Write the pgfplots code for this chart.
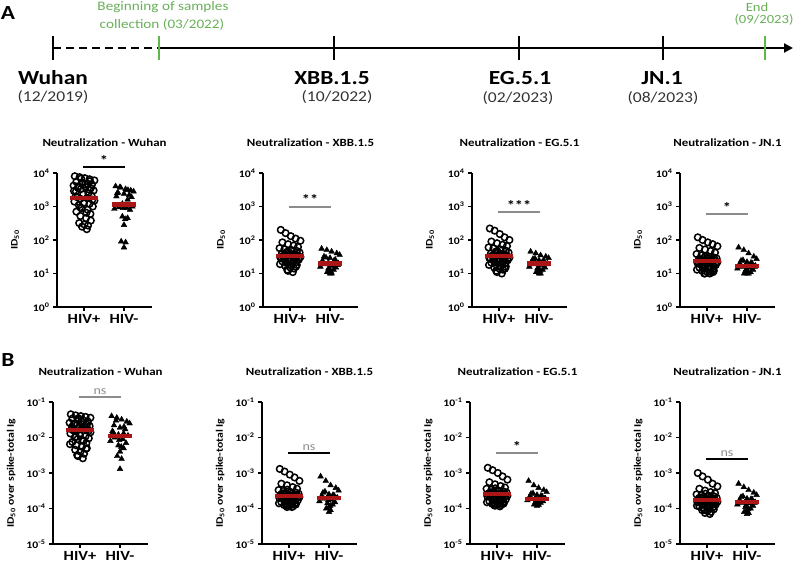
\documentclass[border=0pt]{standalone}
\usepackage{fontspec}
\setmainfont{Carlito}[FakeStretch=1.17]
\usepackage{pgfplots}
\pgfplotsset{compat=1.18}
\usepackage{pgfplotstable}
\usetikzlibrary{arrows.meta}

\definecolor{medred}{RGB}{170,22,22}
\definecolor{tlgreen}{RGB}{92,184,72}
\definecolor{txtgreen}{RGB}{104,176,88}
\definecolor{sigGray}{RGB}{140,140,140}

% HIV+ donors: jitter position and values for each variant
% (wA..jA: ID50; wB..jB: ID50 over spike-total Ig)
\pgfplotstableread{
jit  wA   xA  eA  jA  wB     xB      eB      jB
0.77 8000 200 220 120 0.045  1.3e-3  1.4e-3  1.0e-3
0.89 7500 160 190 100 0.042  1.1e-3  1.2e-3  8e-4
1.02 7000 130 150 85  0.040  9e-4    1.0e-3  6.5e-4
1.14 6500 110 120 75  0.038  7.5e-4  8e-4    5e-4
1.26 6000 95  100 65  0.036  6e-4    6.5e-4  4.2e-4
0.81 5500 85  90  58  0.034  5e-4    5.5e-4  3.6e-4
0.95 5200 75  80  52  0.032  4.5e-4  4.8e-4  3.2e-4
1.09 4800 68  72  47  0.030  4e-4    4.3e-4  2.9e-4
1.20 4500 62  66  42  0.028  3.6e-4  3.9e-4  2.7e-4
0.74 4200 57  60  38  0.026  3.3e-4  3.6e-4  2.5e-4
0.86 4000 53  56  35  0.025  3.1e-4  3.4e-4  2.4e-4
1.04 3800 50  52  32  0.024  2.9e-4  3.2e-4  2.3e-4
1.17 3500 47  48  30  0.023  2.8e-4  3.0e-4  2.2e-4
0.92 3300 44  45  29  0.022  2.7e-4  2.9e-4  2.1e-4
1.24 3000 42  42  28  0.021  2.6e-4  2.8e-4  2.0e-4
0.80 2800 40  40  27  0.020  2.5e-4  2.7e-4  1.95e-4
1.11 2500 38  38  26  0.019  2.45e-4 2.65e-4 1.9e-4
0.98 2300 36  36  25  0.018  2.4e-4  2.6e-4  1.8e-4
1.19 2100 35  35  25  0.017  2.35e-4 2.55e-4 1.75e-4
0.83 1900 34  34  24  0.016  2.3e-4  2.5e-4  1.7e-4
1.08 1800 33  33  24  0.016  2.25e-4 2.45e-4 1.65e-4
0.91 1700 32  32  23  0.015  2.2e-4  2.4e-4  1.6e-4
1.26 1500 31  30  22  0.014  2.1e-4  2.3e-4  1.55e-4
0.76 1400 30  29  21  0.013  2.0e-4  2.2e-4  1.5e-4
1.00 1300 29  28  20  0.012  1.9e-4  2.1e-4  1.45e-4
1.14 1200 28  27  19  0.011  1.8e-4  2.0e-4  1.4e-4
0.87 1100 27  26  18  0.010  1.75e-4 1.9e-4  1.35e-4
1.22 1000 26  25  18  0.0095 1.7e-4  1.8e-4  1.3e-4
0.94 900  25  24  17  0.009  1.6e-4  1.75e-4 1.25e-4
1.09 800  24  22  16  0.008  1.55e-4 1.7e-4  1.2e-4
0.81 700  23  21  15  0.0075 1.5e-4  1.6e-4  1.15e-4
1.16 600  22  20  14  0.007  1.45e-4 1.55e-4 1.1e-4
0.91 520  21  19  14  0.006  1.4e-4  1.5e-4  1.05e-4
1.05 450  20  17  13  0.0055 1.35e-4 1.45e-4 1.0e-4
1.17 380  18  16  12  0.005  1.3e-4  1.4e-4  9.5e-5
0.88 320  17  15  12  0.0045 1.25e-4 1.35e-4 9e-5
1.01 290  15  14  11  0.004  1.2e-4  1.3e-4  8.5e-5
1.10 270  14  13  11  0.0035 1.15e-4 1.25e-4 8e-5
0.95 250  12  11  10  0.003  1.1e-4  1.2e-4  7.5e-5
1.07 210  11  10  10  0.0026 1.1e-4  1.15e-4 7e-5
0.96 5000 45  46  33  0.035  3.4e-4  3.7e-4  2.6e-4
1.03 4600 38  39  28  0.029  2.8e-4  3.1e-4  2.2e-4
0.85 3600 33  34  26  0.024  2.6e-4  2.8e-4  2.0e-4
1.13 3200 31  31  24  0.019  2.4e-4  2.6e-4  1.8e-4
0.79 2000 29  28  22  0.017  2.2e-4  2.4e-4  1.7e-4
1.21 1600 27  26  20  0.015  2.0e-4  2.2e-4  1.6e-4
0.99 1250 25  24  19  0.013  1.85e-4 2.0e-4  1.5e-4
0.90 950  23  22  17  0.0105 1.7e-4  1.85e-4 1.4e-4
1.06 650  20  20  15  0.0085 1.5e-4  1.65e-4 1.3e-4
0.75 2900 19  18  13  0.0065 1.4e-4  1.5e-4  1.2e-4
1.15 5700 16  14  11  0.0048 1.3e-4  1.35e-4 1.1e-4
0.93 6800 13  12  10  0.0032 1.2e-4  1.25e-4 9e-5
}\hivpos

% HIV- donors
\pgfplotstableread{
jit  wA   xA eA jA wB     xB      eB      jB
1.79 4000 55 45 60 0.040  8e-4    6e-4    5e-4
1.92 3600 50 40 50 0.036  6e-4    4.5e-4  4e-4
2.04 3300 45 35 40 0.032  4.5e-4  3.8e-4  3.3e-4
2.17 3000 40 32 32 0.028  3.8e-4  3.3e-4  2.8e-4
2.24 2800 36 29 27 0.025  3.2e-4  2.9e-4  2.4e-4
1.85 2600 32 27 24 0.022  2.8e-4  2.6e-4  2.1e-4
2.00 2400 29 25 22 0.019  2.5e-4  2.4e-4  1.9e-4
2.13 2200 26 23 20 0.017  2.3e-4  2.2e-4  1.8e-4
1.81 2000 24 22 19 0.015  2.2e-4  2.1e-4  1.7e-4
2.09 1600 22 21 18 0.013  2.1e-4  2.0e-4  1.6e-4
1.96 1200 21 20 17 0.012  2.05e-4 1.95e-4 1.55e-4
2.21 1000 20 20 17 0.011  2.0e-4  1.9e-4  1.5e-4
1.87 950  19 19 16 0.010  1.9e-4  1.85e-4 1.45e-4
2.07 900  17 18 15 0.009  1.8e-4  1.8e-4  1.4e-4
1.76 850  16 16 14 0.008  1.6e-4  1.7e-4  1.3e-4
2.15 800  15 15 13 0.007  1.5e-4  1.6e-4  1.2e-4
1.96 500  14 14 12 0.006  1.4e-4  1.5e-4  1.1e-4
2.09 450  13 13 11 0.005  1.3e-4  1.45e-4 1.0e-4
2.00 280  12 12 11 0.004  1.1e-4  1.4e-4  9e-5
1.93 90   11 11 10 0.003  1.0e-4  1.3e-4  8e-5
2.04 85   10 10 10 0.0025 9e-5    1.25e-4 7.5e-5
2.00 60   10 10 10 0.0013 8e-5    1.2e-4  7e-5
1.90 3800 30 28 25 0.030  3.0e-4  2.7e-4  2.2e-4
2.10 3100 24 24 21 0.020  2.4e-4  2.3e-4  1.85e-4
1.83 2500 21 21 18 0.014  2.1e-4  2.05e-4 1.6e-4
2.19 1900 18 19 16 0.011  1.95e-4 1.9e-4  1.45e-4
1.98 900  14 15 13 0.0085 1.7e-4  1.75e-4 1.25e-4
2.03 420  11 12 11 0.0055 1.2e-4  1.35e-4 9.5e-5
}\hivneg

\pgfplotsset{
  every axis/.append style={
    scale only axis, width=95pt,
    yminorticks=false,
    xmin=0.325, xmax=2.7,
    axis lines=left, axis line style={-, line width=1.3pt},
    xtick={1,2}, xticklabels={HIV+,HIV-},
    tick align=outside, major tick length=4pt,
    tick style={line width=1.2pt, black},
    xticklabel style={font=\bfseries\fontsize{14}{14}\selectfont},
    yticklabel style={font=\bfseries\fontsize{10}{10}\selectfont},
    ylabel style={font=\bfseries\fontsize{10}{10}\selectfont,
      at={(axis description cs:-0.44,0.5)}, anchor=center},
    title style={font=\bfseries\fontsize{11}{11}\selectfont,
      anchor=center, yshift=24pt},
    clip=false,
    clip marker paths=true,
  },
}
\tikzset{
  sigbar/.style={line width=1.7pt},
  sigtxt/.style={font=\bfseries\fontsize{14}{14}\selectfont, inner sep=1pt},
  nstxt/.style={font=\fontsize{12}{12}\selectfont, inner sep=1.5pt},
  medbar/.style={draw=medred, line width=4.2pt},
}

\begin{document}
\begin{tikzpicture}
\useasboundingbox (0,0) rectangle (796pt,569pt);

% ---------- timeline ----------
\draw[line width=2.6pt, dash pattern=on 8pt off 5pt] (53pt,521pt) -- (159pt,521pt);
\draw[line width=2.6pt, -{Triangle[length=9pt,width=9pt]}] (159pt,521pt) -- (793pt,521pt);
\foreach \xx in {53,334,519,663}
  \draw[line width=2.6pt] (\xx pt,509pt) -- (\xx pt,533pt);
\foreach \xx in {159,765}
  \draw[line width=2.6pt, tlgreen] (\xx pt,509pt) -- (\xx pt,533pt);

\node[font=\bfseries\fontsize{20}{22}\selectfont] at (53pt,491pt) {Wuhan};
\node[font=\fontsize{15}{16}\selectfont, text=black!80] at (53pt,472pt) {(12/2019)};
\node[font=\bfseries\fontsize{20}{22}\selectfont] at (332pt,491pt) {XBB.1.5};
\node[font=\fontsize{15}{16}\selectfont, text=black!80] at (337pt,472pt) {(10/2022)};
\node[font=\bfseries\fontsize{20}{22}\selectfont] at (520pt,491pt) {EG.5.1};
\node[font=\fontsize{15}{16}\selectfont, text=black!80] at (518pt,471pt) {(02/2023)};
\node[font=\bfseries\fontsize{20}{22}\selectfont] at (662pt,491pt) {JN.1};
\node[font=\fontsize{15}{16}\selectfont, text=black!80] at (663pt,471pt) {(08/2023)};
\node[font=\fontsize{13}{14}\selectfont, text=txtgreen] at (163pt,562pt) {Beginning of samples};
\node[font=\fontsize{13}{14}\selectfont, text=txtgreen] at (162pt,544pt) {collection (03/2022)};
\node[font=\fontsize{12.5}{13}\selectfont, text=txtgreen] at (757pt,562pt) {End};
\node[font=\fontsize{12.5}{13}\selectfont, text=txtgreen] at (764pt,549pt) {(09/2023)};

\node[font=\bfseries\fontsize{20}{22}\selectfont] at (8pt,556pt) {A};
\node[font=\bfseries\fontsize{20}{22}\selectfont] at (8pt,209pt) {B};

% ---------- row A: ID50 ----------
\def\rowAticks{10\textsuperscript{0},10\textsuperscript{1},10\textsuperscript{2},10\textsuperscript{3},10\textsuperscript{4}}
\def\rowBticks{10\textsuperscript{-5},10\textsuperscript{-4},10\textsuperscript{-3},10\textsuperscript{-2},10\textsuperscript{-1}}

\begin{axis}[ymode=log, height=134pt, ymin=1, ymax=1e4, ytick={1,10,100,1000,10000},
  yticklabels/.expand once=\rowAticks, ylabel={ID\textsubscript{50}},
  at={(57pt,262pt)}, anchor=south west, title={Neutralization - Wuhan}]
\addplot[only marks, mark=o, mark size=3.3pt, line width=1.5pt] table[x=jit, y=wA] {\hivpos};
\addplot[only marks, mark=triangle*, mark size=3.3pt] table[x=jit, y=wA] {\hivneg};
\addplot[medbar, mark=none] coordinates {(0.65,1800) (1.35,1800)};
\addplot[medbar, mark=none] coordinates {(1.70,1150) (2.30,1150)};
\draw[sigbar] (axis cs:0.98,15000) -- (axis cs:2.02,15000) node[midway, above, sigtxt] {*};
\end{axis}

\begin{axis}[ymode=log, height=134pt, ymin=1, ymax=1e4, ytick={1,10,100,1000,10000},
  yticklabels/.expand once=\rowAticks, ylabel={ID\textsubscript{50}},
  at={(263pt,262pt)}, anchor=south west, title={Neutralization - XBB.1.5}]
\addplot[only marks, mark=o, mark size=3.3pt, line width=1.5pt] table[x=jit, y=xA] {\hivpos};
\addplot[only marks, mark=triangle*, mark size=3.3pt] table[x=jit, y=xA] {\hivneg};
\addplot[medbar, mark=none] coordinates {(0.65,33) (1.35,33)};
\addplot[medbar, mark=none] coordinates {(1.70,20) (2.30,20)};
\draw[sigbar, sigGray] (axis cs:0.98,980) -- (axis cs:2.02,980) node[midway, above, sigtxt, text=black] {**};
\end{axis}

\begin{axis}[ymode=log, height=134pt, ymin=1, ymax=1e4, ytick={1,10,100,1000,10000},
  yticklabels/.expand once=\rowAticks, ylabel={ID\textsubscript{50}},
  at={(472pt,262pt)}, anchor=south west, title={Neutralization - EG.5.1}]
\addplot[only marks, mark=o, mark size=3.3pt, line width=1.5pt] table[x=jit, y=eA] {\hivpos};
\addplot[only marks, mark=triangle*, mark size=3.3pt] table[x=jit, y=eA] {\hivneg};
\addplot[medbar, mark=none] coordinates {(0.65,33) (1.35,33)};
\addplot[medbar, mark=none] coordinates {(1.70,20) (2.30,20)};
\draw[sigbar, sigGray] (axis cs:0.98,690) -- (axis cs:2.02,690) node[midway, above, sigtxt, text=black] {***};
\end{axis}

\begin{axis}[ymode=log, height=134pt, ymin=1, ymax=1e4, ytick={1,10,100,1000,10000},
  yticklabels/.expand once=\rowAticks, ylabel={ID\textsubscript{50}},
  at={(680pt,262pt)}, anchor=south west, title={Neutralization - JN.1}]
\addplot[only marks, mark=o, mark size=3.3pt, line width=1.5pt] table[x=jit, y=jA] {\hivpos};
\addplot[only marks, mark=triangle*, mark size=3.3pt] table[x=jit, y=jA] {\hivneg};
\addplot[medbar, mark=none] coordinates {(0.65,24) (1.35,24)};
\addplot[medbar, mark=none] coordinates {(1.70,17) (2.30,17)};
\draw[sigbar, sigGray] (axis cs:0.98,600) -- (axis cs:2.02,600) node[midway, above, sigtxt, text=black] {*};
\end{axis}

% ---------- row B: ID50 over spike-total Ig ----------
\begin{axis}[ymode=log, height=142pt, ymin=1e-5, ymax=1e-1, ytick={1e-5,1e-4,1e-3,1e-2,1e-1},
  yticklabels/.expand once=\rowBticks, ylabel={ID\textsubscript{50} over spike-total Ig},
  at={(53pt,25pt)}, anchor=south west, title={Neutralization - Wuhan}]
\addplot[only marks, mark=o, mark size=3.3pt, line width=1.5pt] table[x=jit, y=wB] {\hivpos};
\addplot[only marks, mark=triangle*, mark size=3.3pt] table[x=jit, y=wB] {\hivneg};
\addplot[medbar, mark=none] coordinates {(0.65,0.016) (1.35,0.016)};
\addplot[medbar, mark=none] coordinates {(1.70,0.011) (2.30,0.011)};
\draw[sigbar, sigGray] (axis cs:0.98,0.138) -- (axis cs:2.02,0.138) node[midway, above, nstxt, text=sigGray] {ns};
\end{axis}

\begin{axis}[ymode=log, height=142pt, ymin=1e-5, ymax=1e-1, ytick={1e-5,1e-4,1e-3,1e-2,1e-1},
  yticklabels/.expand once=\rowBticks, ylabel={ID\textsubscript{50} over spike-total Ig},
  at={(262pt,25pt)}, anchor=south west, title={Neutralization - XBB.1.5}]
\addplot[only marks, mark=o, mark size=3.3pt, line width=1.5pt] table[x=jit, y=xB] {\hivpos};
\addplot[only marks, mark=triangle*, mark size=3.3pt] table[x=jit, y=xB] {\hivneg};
\addplot[medbar, mark=none] coordinates {(0.65,2.3e-4) (1.35,2.3e-4)};
\addplot[medbar, mark=none] coordinates {(1.70,2.0e-4) (2.30,2.0e-4)};
\draw[sigbar] (axis cs:0.98,3.6e-3) -- (axis cs:2.02,3.6e-3) node[midway, above, nstxt, text=sigGray] {ns};
\end{axis}

\begin{axis}[ymode=log, height=142pt, ymin=1e-5, ymax=1e-1, ytick={1e-5,1e-4,1e-3,1e-2,1e-1},
  yticklabels/.expand once=\rowBticks, ylabel={ID\textsubscript{50} over spike-total Ig},
  at={(470pt,25pt)}, anchor=south west, title={Neutralization - EG.5.1}]
\addplot[only marks, mark=o, mark size=3.3pt, line width=1.5pt] table[x=jit, y=eB] {\hivpos};
\addplot[only marks, mark=triangle*, mark size=3.3pt] table[x=jit, y=eB] {\hivneg};
\addplot[medbar, mark=none] coordinates {(0.65,2.5e-4) (1.35,2.5e-4)};
\addplot[medbar, mark=none] coordinates {(1.70,1.9e-4) (2.30,1.9e-4)};
\draw[sigbar, sigGray] (axis cs:0.98,3.6e-3) -- (axis cs:2.02,3.6e-3) node[midway, above, sigtxt, text=black] {*};
\end{axis}

\begin{axis}[ymode=log, height=142pt, ymin=1e-5, ymax=1e-1, ytick={1e-5,1e-4,1e-3,1e-2,1e-1},
  yticklabels/.expand once=\rowBticks, ylabel={ID\textsubscript{50} over spike-total Ig},
  at={(680pt,25pt)}, anchor=south west, title={Neutralization - JN.1}]
\addplot[only marks, mark=o, mark size=3.3pt, line width=1.5pt] table[x=jit, y=jB] {\hivpos};
\addplot[only marks, mark=triangle*, mark size=3.3pt] table[x=jit, y=jB] {\hivneg};
\addplot[medbar, mark=none] coordinates {(0.65,1.7e-4) (1.35,1.7e-4)};
\addplot[medbar, mark=none] coordinates {(1.70,1.5e-4) (2.30,1.5e-4)};
\draw[sigbar] (axis cs:0.98,2.5e-3) -- (axis cs:2.02,2.5e-3) node[midway, above, nstxt, text=sigGray] {ns};
\end{axis}
\end{tikzpicture}
\end{document}
